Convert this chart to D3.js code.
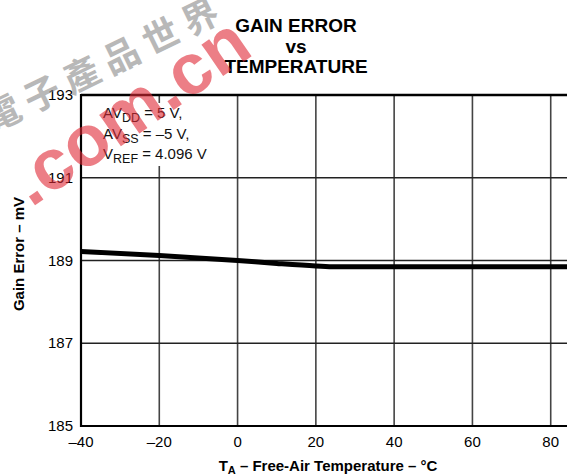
<!DOCTYPE html>
<html><head><meta charset="utf-8">
<script src="https://cdn.jsdelivr.net/npm/d3@7"></script>
<style>html,body{margin:0;padding:0;background:#fff;overflow:hidden}svg{display:block}</style>
</head><body>
<svg id="c" width="567" height="475"></svg>
<script>
const temps = [-40, -20, 0, 10, 20, 25, 40, 60, 80, 100];
const gainError = [189.22, 189.12, 189.0, 188.93, 188.87, 188.85, 188.85, 188.85, 188.85, 188.85];
const xTicks = [-40, -20, 0, 20, 40, 60, 80];
const yTicks = [185, 187, 189, 191, 193];
const titleLines = ["GAIN ERROR", "vs", "TEMPERATURE"];

const svg = d3.select("#c");
const font = "'Liberation Sans', Arial, sans-serif";
const x = d3.scaleLinear().domain([-40, 100]).range([81, 629]);
const y = d3.scaleLinear().domain([185, 193]).range([426, 95]);

// title
svg.append("g").selectAll("text").data(titleLines).join("text")
  .attr("x", 296).attr("y", (d, i) => 32 + i * 20.7)
  .attr("text-anchor", "middle").attr("font-family", font)
  .attr("font-size", 19).attr("font-weight", 700).attr("fill", "#000").text(d => d);

// grid
const g = svg.append("g");
g.selectAll("line.v").data(xTicks.slice(1).concat([100])).join("line")
  .attr("x1", d => x(d)).attr("x2", d => x(d)).attr("y1", y(193)).attr("y2", y(185))
  .attr("stroke", "#444").attr("stroke-width", 1.6);
g.selectAll("line.h").data(yTicks.slice(1, 4)).join("line")
  .attr("x1", x(-40)).attr("x2", 567).attr("y1", d => y(d)).attr("y2", d => y(d))
  .attr("stroke", "#222").attr("stroke-width", 1.3);

// annotation white box
svg.append("rect").attr("x", 96).attr("y", 103).attr("width", 128).attr("height", 63).attr("fill", "#fff");

// frame
svg.append("line").attr("x1", x(-40)).attr("x2", 567).attr("y1", y(193)).attr("y2", y(193)).attr("stroke", "#000").attr("stroke-width", 2.6);
svg.append("line").attr("x1", x(-40)).attr("x2", 567).attr("y1", y(185)).attr("y2", y(185)).attr("stroke", "#000").attr("stroke-width", 2.2);
svg.append("line").attr("x1", x(-40)).attr("x2", x(-40)).attr("y1", y(193) - 1).attr("y2", y(185) + 1).attr("stroke", "#000").attr("stroke-width", 2.2);

// axes labels
svg.append("g").selectAll("text").data(xTicks).join("text")
  .attr("x", d => x(d)).attr("y", 447).attr("text-anchor", "middle")
  .attr("font-family", font).attr("font-size", 15).attr("fill", "#000")
  .text(d => d < 0 ? "\u2013" + Math.abs(d) : d);
svg.append("g").selectAll("text").data(yTicks).join("text")
  .attr("x", 73).attr("y", d => y(d) + 5).attr("text-anchor", "end")
  .attr("font-family", font).attr("font-size", 15).attr("fill", "#000").text(d => d);

// data line
svg.append("path").datum(temps.map((t, i) => [t, gainError[i]]))
  .attr("d", d3.line().x(d => x(d[0])).y(d => y(d[1])).curve(d3.curveMonotoneX))
  .attr("fill", "none").attr("stroke", "#000").attr("stroke-width", 5);

// annotation
const ann = [["AV", "DD", " = 5 V,"], ["AV", "SS", " = \u20135 V,"], ["V", "REF", " = 4.096 V"]];
ann.forEach((a, i) => {
  const t = svg.append("text").attr("x", 103).attr("y", 118 + i * 20.5)
    .attr("font-family", font).attr("font-size", 15).attr("fill", "#111");
  t.append("tspan").text(a[0]);
  t.append("tspan").attr("dy", 4).attr("font-size", 12.5).text(a[1]);
  t.append("tspan").attr("dy", -4).text(a[2]);
});

// axis titles
const xt = svg.append("text").attr("x", 328).attr("y", 470.5).attr("text-anchor", "middle")
  .attr("font-family", font).attr("font-size", 15).attr("font-weight", 700).attr("fill", "#000");
xt.append("tspan").text("T");
xt.append("tspan").attr("dy", 3).attr("font-size", 11).text("A");
xt.append("tspan").attr("dy", -3).text(" \u2013 Free-Air Temperature \u2013 \u00B0C");

svg.append("text").attr("transform", "translate(24,254) rotate(-90)").attr("text-anchor", "middle")
  .attr("font-family", font).attr("font-size", 15).attr("font-weight", 700).attr("fill", "#000")
  .text("Gain Error \u2013 mV");

// watermark (on top, semi-transparent)
const wm = svg.append("g");
wm.append("text").attr("transform", "translate(-8,133) rotate(-26)")
  .attr("font-family", "'Noto Sans CJK TC', sans-serif").attr("font-size", 36).attr("font-weight", 700)
  .attr("fill", "#8a8a8a").attr("opacity", 0.6).attr("letter-spacing", 8).text("電子產品世界");
wm.append("text").attr("transform", "translate(31,208) rotate(-34.5)")
  .attr("font-family", font).attr("font-size", 72).attr("font-weight", 700)
  .attr("fill", "#e02a36").attr("opacity", 0.6).text(".com.cn");
</script>
</body></html>
